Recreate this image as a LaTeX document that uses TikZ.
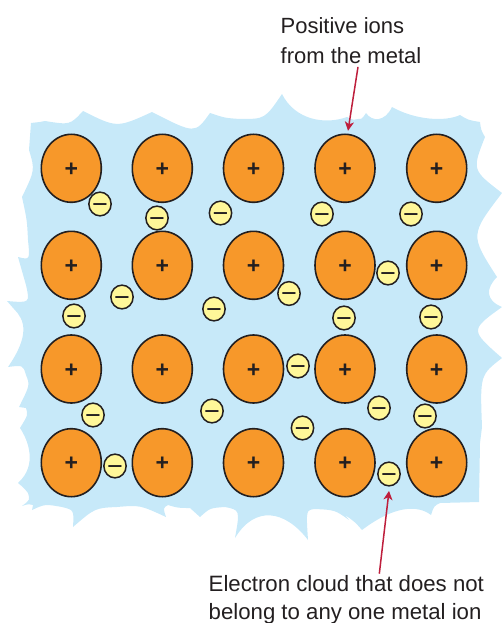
\documentclass[tikz,border=0pt]{standalone}
\usepackage{fontspec}
\setmainfont{Liberation Sans}
\usetikzlibrary{shapes.geometric,arrows.meta}
\definecolor{cloudblue}{HTML}{C7E9F9}
\definecolor{ionorange}{HTML}{F7982A}
\definecolor{elecyellow}{HTML}{FFF799}
\definecolor{inkdark}{HTML}{231F20}
\definecolor{arrowred}{HTML}{BE1E3C}
\tikzset{
  ion/.style={ellipse,draw=inkdark,line width=1.6pt,fill=ionorange,minimum width=60pt,minimum height=68pt,inner sep=0pt,outer sep=0pt,text=inkdark,font=\bfseries\fontsize{23}{23}\selectfont},
  elec/.style={ellipse,draw=inkdark,line width=1.5pt,fill=elecyellow,minimum width=21pt,minimum height=23.7pt,inner sep=0pt,outer sep=0pt,text=inkdark,font=\fontsize{27}{27}\selectfont},
  lbl/.style={anchor=base west,inner sep=0pt,text=inkdark},
  lbltop/.style={lbl,font=\fontsize{22}{22}\selectfont},
  lblbot/.style={lbl,font=\fontsize{22.2}{22}\selectfont},
  pointer/.style={draw=arrowred,line width=1.5pt,-{Stealth[length=9pt,width=9pt,inset=2.5pt]}}
}
\newcommand{\ionmark}[1]{\raisebox{-.35em}[0pt][0pt]{#1}}
\begin{document}
\begin{tikzpicture}[x=1pt,y=-1pt]
\useasboundingbox (0,0) rectangle (502,623);
% electron cloud
\fill[cloudblue] (31,123)
 .. controls (40,122) .. (45,121)
 .. controls (70,125) .. (83,111)
 .. controls (117,128) .. (152,112)
 .. controls (195,134) .. (210,113)
 .. controls (225,118) .. (240,119)
 .. controls (265,119) .. (282,94)
 .. controls (295,120) and (325,125) .. (347,117)
 .. controls (353,120) .. (358,119)
 .. controls (362,119) .. (366,113)
 .. controls (372,122) and (385,122) .. (392,107)
 .. controls (415,120) and (445,122) .. (460,115)
 .. controls (468,120) .. (480,122)
 .. controls (481,130) .. (485,137)
 .. controls (472,170) .. (502,193)
 .. controls (470,235) .. (497,277)
 .. controls (486,288) and (485,300) .. (502,307)
 .. controls (470,330) .. (502,358)
 .. controls (480,375) .. (482,427)
 -- (480,443) -- (479,502) -- (440,503)
 .. controls (434,506) .. (431,515)
 .. controls (418,505) and (395,505) .. (362,530)
 .. controls (355,522) .. (345,515)
 -- (349,520)
 .. controls (335,510) .. (315,509)
 .. controls (306,510) .. (308,540)
 .. controls (285,510) and (255,505) .. (235,538)
 .. controls (240,510) .. (225,507)
 .. controls (210,508) .. (200,517)
 -- (190,508)
 .. controls (178,508) .. (168,505)
 .. controls (163,508) .. (166,517)
 .. controls (140,505) .. (117,507)
 .. controls (95,508) .. (73,527)
 .. controls (74,510) .. (62,507)
 .. controls (45,504) .. (32,510)
 -- (33,505)
 .. controls (28,504) .. (22,506)
 .. controls (30,500) .. (28,493)
 .. controls (24,488) .. (18,483)
 .. controls (38,465) and (28,440) .. (20,428)
 .. controls (28,415) .. (26,408)
 -- (19,407)
 .. controls (30,385) .. (26,375)
 .. controls (23,365) .. (8,367)
 .. controls (30,335) and (25,320) .. (14,309)
 -- (7,301)
 .. controls (30,303) .. (26,285)
 -- (18,257)
 .. controls (30,260) .. (28,240)
 .. controls (27,220) .. (22,197)
 .. controls (35,170) .. (29,150)
 -- cycle;
% positive ions
\foreach \yy/\r in {168.3/1,265.3/2,369/3,462.7/4}
  \foreach \xx/\c in {71.3/1,162.3/2,253.5/3,345/4,436.7/5}
    \node[ion] (ion\r\c) at (\xx,\yy) {\ionmark{+}};
% electrons
\foreach \xx/\yy [count=\n] in {100/204,157/218,220.5/213,322/214,411/214,
  122/297,214/309,289/293.5,388/273,74/316,344/318,431/317,298/366,
  93/415,212/411,379/408,302.5/428,425/416,115/466,389/474}
    \node[elec] (el\n) at (\xx,\yy) {\ionmark{−}};
% labels
\node[lbltop] (pos1) at (280.5,33.5) {Positive ions};
\node[lbltop] (pos2) at (280.5,63.5) {from the metal};
\node[lblbot] (cl1) at (208.5,591) {Electron cloud that does not};
\node[lblbot] (cl2) at (208.5,619) {belong to any one metal ion};
% pointers
\draw[pointer] ([xshift=7pt,yshift=-3pt]pos2.south) -- ([xshift=3pt,yshift=3.5pt]ion14.north);
\draw[pointer] ([xshift=33pt,yshift=1pt]cl1.north) -- ([yshift=-5pt]el20.south);
\end{tikzpicture}
\end{document}
